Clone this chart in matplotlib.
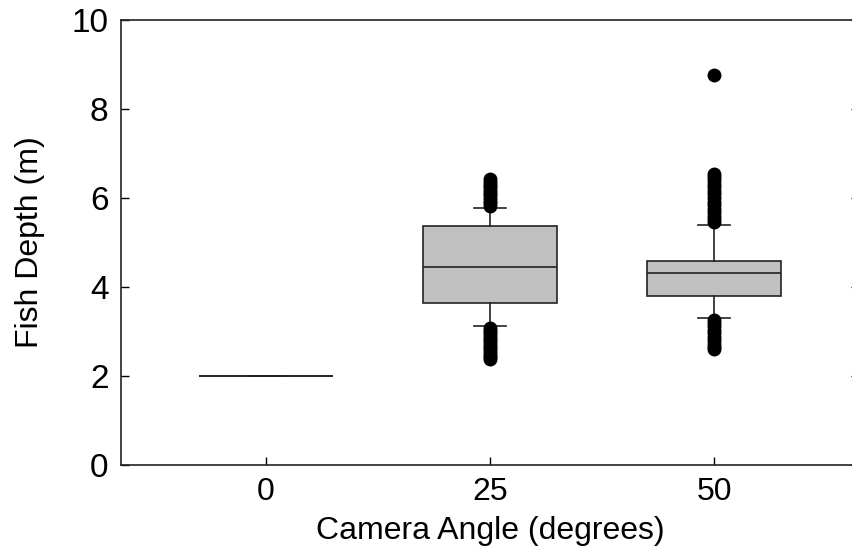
import matplotlib
matplotlib.use("Agg")
import matplotlib.pyplot as plt

plt.rcParams['font.family'] = ['Liberation Sans', 'DejaVu Sans']

# categories (camera angle, degrees)
angles = ["0", "25", "50"]

# box statistics (fish depth, m)
q1 = [2.0, 3.63, 3.80]
medians = [2.0, 4.46, 4.31]
q3 = [2.0, 5.38, 4.58]
whislo = [2.0, 3.13, 3.31]
whishi = [2.0, 5.77, 5.39]

# outliers (dense columns of dots)
fliers_0 = []
fliers_25 = [5.82, 5.88, 5.94, 6.0, 6.06, 6.12, 6.18, 6.24, 6.3, 6.36, 6.43,
             3.08, 3.02, 2.96, 2.9, 2.84, 2.78, 2.72, 2.66, 2.6, 2.54, 2.48, 2.43, 2.38]
fliers_50 = [5.45, 5.52, 5.6, 5.68, 5.76, 5.84, 5.92, 6.0, 6.08, 6.16, 6.24,
             6.32, 6.4, 6.47, 6.54, 8.76,
             3.26, 3.2, 3.12, 3.04, 2.96, 2.88, 2.8, 2.72, 2.66, 2.6]
fliers = [fliers_0, fliers_25, fliers_50]

stats = []
for i in range(len(angles)):
    stats.append({"label": angles[i], "q1": q1[i], "med": medians[i], "q3": q3[i],
                  "whislo": whislo[i], "whishi": whishi[i], "fliers": fliers[i]})

fig = plt.figure(figsize=(8.52, 5.5), dpi=100)
ax = fig.add_axes([121/852, 1 - 465/550, (859 - 121)/852, (465 - 20)/550])

ax.bxp(stats, positions=[1, 2, 3], widths=0.6, patch_artist=True,
       boxprops=dict(facecolor="#c0c0c0", edgecolor="#222222", linewidth=1.2),
       medianprops=dict(color="#222222", linewidth=1.2),
       whiskerprops=dict(color="#222222", linewidth=1.2),
       capprops=dict(color="#222222", linewidth=1.2),
       capwidths=0.14,
       flierprops=dict(marker="o", markerfacecolor="black", markeredgecolor="black",
                       markersize=9))

ax.set_xlim(0.353, 3.647)
ax.set_ylim(0, 10)
ax.set_yticks([0, 2, 4, 6, 8, 10])
ax.set_xticks([1, 2, 3])
ax.set_xticklabels(angles)
ax.tick_params(axis="both", direction="in", length=6, width=1, labelsize=23, pad=9)
ax.tick_params(axis="y", right=True, labelsize=24)
for s in ax.spines.values():
    s.set_linewidth(1.2)
    s.set_color("#222222")

ax.set_xlabel("Camera Angle (degrees)", fontsize=23, labelpad=6)
ax.set_ylabel("Fish Depth (m)", fontsize=23, labelpad=19)

fig.savefig("out.png", dpi=100)
